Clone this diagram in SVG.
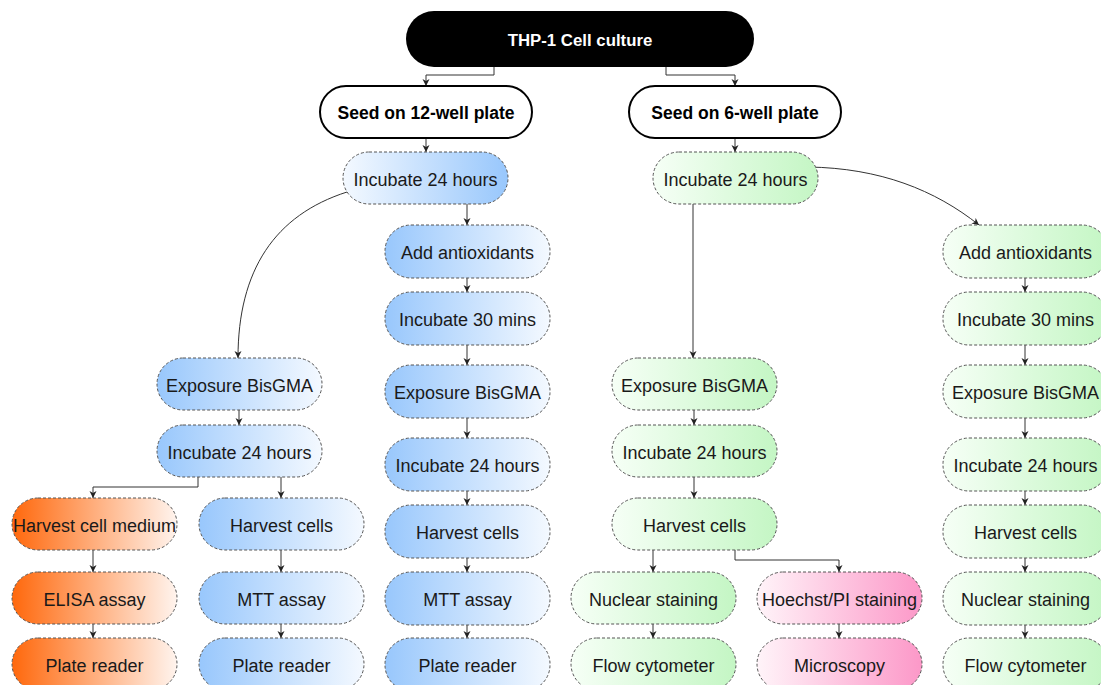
<svg xmlns="http://www.w3.org/2000/svg" width="1101" height="685" viewBox="0 0 1101 685">
<defs>
<linearGradient id="blueR" x1="0" y1="0" x2="1" y2="0"><stop offset="0" stop-color="#f4f9ff"/><stop offset="1" stop-color="#98c7fc"/></linearGradient>
<linearGradient id="blueL" x1="0" y1="0" x2="1" y2="0"><stop offset="0" stop-color="#98c7fc"/><stop offset="1" stop-color="#f4f9ff"/></linearGradient>
<linearGradient id="greenR" x1="0" y1="0" x2="1" y2="0"><stop offset="0" stop-color="#f6fff6"/><stop offset="1" stop-color="#c4f6c4"/></linearGradient>
<linearGradient id="orangeL" x1="0" y1="0" x2="1" y2="0"><stop offset="0" stop-color="#ff680c"/><stop offset="1" stop-color="#fff4ee"/></linearGradient>
<linearGradient id="pinkR" x1="0" y1="0" x2="1" y2="0"><stop offset="0" stop-color="#fff4f9"/><stop offset="1" stop-color="#fc98c8"/></linearGradient>
<marker id="arr" markerWidth="8" markerHeight="8" refX="7" refY="4" orient="auto" markerUnits="userSpaceOnUse"><path d="M0,0.5 L7,4 L0,7.5 L2,4 z" fill="#222"/></marker>
<style>
.nd{stroke:#555;stroke-width:1;stroke-dasharray:3,2}
.tx{font-family:"Liberation Sans",Arial,sans-serif;font-size:18px;fill:#1a1a1a;text-anchor:middle}
.bt{font-family:"Liberation Sans",Arial,sans-serif;font-weight:bold;text-anchor:middle}
.cn{fill:none;stroke:#333;stroke-width:1;marker-end:url(#arr)}
.b{fill:url(#blueL)}.br{fill:url(#blueR)}.g{fill:url(#greenR)}.o{fill:url(#orangeL)}.p{fill:url(#pinkR)}
</style>
</defs>
<rect width="1101" height="685" fill="#fff"/>
<g id="connectors">
<path class="cn" d="M494,67 V75 H426 V86"/>
<path class="cn" d="M666,67 V75 H735 V86"/>
<path class="cn" d="M426,138 V152"/>
<path class="cn" d="M735,138 V152"/>
<path class="cn" d="M467,204 V225"/>
<path class="cn" d="M347,192 C275,215 238,270 238,358"/>
<path class="cn" d="M808,167 C880,168 935,190 979,225"/>
<path class="cn" d="M693,204 V358"/>
<path class="cn" d="M467,278 V292"/>
<path class="cn" d="M467,345 V365"/>
<path class="cn" d="M467,418 V438"/>
<path class="cn" d="M467,491 V505"/>
<path class="cn" d="M467,558 V572"/>
<path class="cn" d="M467,625 V638"/>
<path class="cn" d="M239,410 V425"/>
<path class="cn" d="M198,477 V487 H93 V498"/>
<path class="cn" d="M281,477 V498"/>
<path class="cn" d="M93,550 V572"/>
<path class="cn" d="M281,550 V572"/>
<path class="cn" d="M93,624 V638"/>
<path class="cn" d="M281,624 V638"/>
<path class="cn" d="M694,410 V425"/>
<path class="cn" d="M694,477 V498"/>
<path class="cn" d="M653,550 V572"/>
<path class="cn" d="M735,550 V560 H839 V572"/>
<path class="cn" d="M653,624 V638"/>
<path class="cn" d="M839,624 V638"/>
<path class="cn" d="M1025,278 V292"/>
<path class="cn" d="M1025,345 V365"/>
<path class="cn" d="M1025,418 V438"/>
<path class="cn" d="M1025,491 V505"/>
<path class="cn" d="M1025,558 V572"/>
<path class="cn" d="M1025,625 V638"/>
</g>
<g id="title"><rect x="406" y="11" width="348" height="56" rx="28" fill="#000"/><text class="bt" x="580" y="46" font-size="16.8" fill="#fff">THP-1 Cell culture</text></g>
<g id="seed12"><rect x="320" y="86" width="212" height="52" rx="26" fill="#fff" stroke="#000" stroke-width="2"/><text class="bt" x="426" y="119" font-size="17.5" fill="#000">Seed on 12-well plate</text></g>
<g id="seed6"><rect x="629" y="86" width="212" height="52" rx="26" fill="#fff" stroke="#000" stroke-width="2"/><text class="bt" x="735" y="119" font-size="17.5" fill="#000">Seed on 6-well plate</text></g>

<g id="b_inc24"><rect class="nd br" x="343" y="152" width="165" height="52" rx="26"/><text class="tx" x="425.5" y="186">Incubate 24 hours</text></g>
<g id="c_add"><rect class="nd b" x="385" y="225" width="165" height="53" rx="26"/><text class="tx" x="467.5" y="259">Add antioxidants</text></g>
<g id="c_inc30"><rect class="nd b" x="385" y="292" width="165" height="53" rx="26"/><text class="tx" x="467.5" y="326">Incubate 30 mins</text></g>
<g id="c_exp"><rect class="nd b" x="385" y="365" width="165" height="53" rx="26"/><text class="tx" x="467.5" y="399">Exposure BisGMA</text></g>
<g id="c_inc24"><rect class="nd b" x="385" y="438" width="165" height="53" rx="26"/><text class="tx" x="467.5" y="472">Incubate 24 hours</text></g>
<g id="c_harv"><rect class="nd b" x="385" y="505" width="165" height="53" rx="26"/><text class="tx" x="467.5" y="539">Harvest cells</text></g>
<g id="c_mtt"><rect class="nd b" x="385" y="572" width="165" height="53" rx="26"/><text class="tx" x="467.5" y="606">MTT assay</text></g>
<g id="c_plate"><rect class="nd b" x="385" y="638" width="165" height="53" rx="26"/><text class="tx" x="467.5" y="672">Plate reader</text></g>

<g id="l_exp"><rect class="nd b" x="157" y="358" width="165" height="52" rx="26"/><text class="tx" x="239.5" y="392">Exposure BisGMA</text></g>
<g id="l_inc24"><rect class="nd b" x="157" y="425" width="165" height="52" rx="26"/><text class="tx" x="239.5" y="459">Incubate 24 hours</text></g>
<g id="l_medium"><rect class="nd o" x="12" y="498" width="165" height="52" rx="26"/><text class="tx" x="94.5" y="532">Harvest cell medium</text></g>
<g id="l_harv"><rect class="nd b" x="199" y="498" width="165" height="52" rx="26"/><text class="tx" x="281.5" y="532">Harvest cells</text></g>
<g id="l_elisa"><rect class="nd o" x="12" y="572" width="165" height="52" rx="26"/><text class="tx" x="94.5" y="606">ELISA assay</text></g>
<g id="l_mtt"><rect class="nd b" x="199" y="572" width="165" height="52" rx="26"/><text class="tx" x="281.5" y="606">MTT assay</text></g>
<g id="l_plate1"><rect class="nd o" x="12" y="638" width="165" height="52" rx="26"/><text class="tx" x="94.5" y="672">Plate reader</text></g>
<g id="l_plate2"><rect class="nd b" x="199" y="638" width="165" height="52" rx="26"/><text class="tx" x="281.5" y="672">Plate reader</text></g>

<g id="g_inc24"><rect class="nd g" x="653" y="152" width="165" height="52" rx="26"/><text class="tx" x="735.5" y="186">Incubate 24 hours</text></g>
<g id="m_exp"><rect class="nd g" x="612" y="358" width="165" height="52" rx="26"/><text class="tx" x="694.5" y="392">Exposure BisGMA</text></g>
<g id="m_inc24"><rect class="nd g" x="612" y="425" width="165" height="52" rx="26"/><text class="tx" x="694.5" y="459">Incubate 24 hours</text></g>
<g id="m_harv"><rect class="nd g" x="612" y="498" width="165" height="52" rx="26"/><text class="tx" x="694.5" y="532">Harvest cells</text></g>
<g id="m_nuc"><rect class="nd g" x="571" y="572" width="165" height="52" rx="26"/><text class="tx" x="653.5" y="606">Nuclear staining</text></g>
<g id="m_flow"><rect class="nd g" x="571" y="638" width="165" height="52" rx="26"/><text class="tx" x="653.5" y="672">Flow cytometer</text></g>
<g id="m_hoechst"><rect class="nd p" x="757" y="572" width="165" height="52" rx="26"/><text class="tx" x="839.5" y="606">Hoechst/PI staining</text></g>
<g id="m_micro"><rect class="nd p" x="757" y="638" width="165" height="52" rx="26"/><text class="tx" x="839.5" y="672">Microscopy</text></g>

<g id="r_add"><rect class="nd g" x="943" y="225" width="165" height="53" rx="26"/><text class="tx" x="1025.5" y="259">Add antioxidants</text></g>
<g id="r_inc30"><rect class="nd g" x="943" y="292" width="165" height="53" rx="26"/><text class="tx" x="1025.5" y="326">Incubate 30 mins</text></g>
<g id="r_exp"><rect class="nd g" x="943" y="365" width="165" height="53" rx="26"/><text class="tx" x="1025.5" y="399">Exposure BisGMA</text></g>
<g id="r_inc24"><rect class="nd g" x="943" y="438" width="165" height="53" rx="26"/><text class="tx" x="1025.5" y="472">Incubate 24 hours</text></g>
<g id="r_harv"><rect class="nd g" x="943" y="505" width="165" height="53" rx="26"/><text class="tx" x="1025.5" y="539">Harvest cells</text></g>
<g id="r_nuc"><rect class="nd g" x="943" y="572" width="165" height="53" rx="26"/><text class="tx" x="1025.5" y="606">Nuclear staining</text></g>
<g id="r_flow"><rect class="nd g" x="943" y="638" width="165" height="53" rx="26"/><text class="tx" x="1025.5" y="672">Flow cytometer</text></g>
</svg>
